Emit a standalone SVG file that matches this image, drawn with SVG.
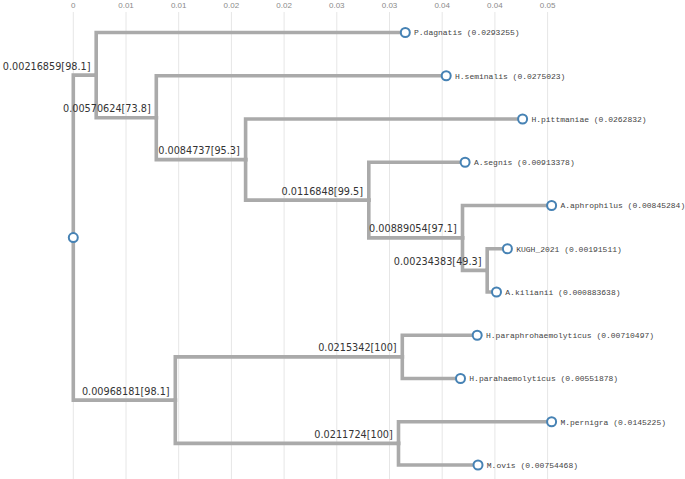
<svg xmlns="http://www.w3.org/2000/svg" width="685" height="479" viewBox="0 0 685 479">
<style>
.grid{stroke:#e6e6e6;stroke-width:1}
.ax{font-family:"Liberation Sans",Arial,sans-serif;font-size:8px;fill:#8a8a8a;text-anchor:middle}
.br{fill:none;stroke:#aaaaaa;stroke-width:3.6;stroke-linejoin:miter;stroke-linecap:square}
.nl{font-family:"DejaVu Sans",Verdana,sans-serif;font-size:9.7px;fill:#333;text-anchor:end}
.ll{font-family:"Liberation Mono","Courier New",monospace;font-size:8px;fill:#444}
.dot{fill:#fff;stroke:#4682b4;stroke-width:2}
</style>
<rect width="685" height="479" fill="#fff"/>
<g id="axis">
<line class="grid" x1="73.3" y1="12" x2="73.3" y2="479"/>
<line class="grid" x1="126" y1="12" x2="126" y2="479"/>
<line class="grid" x1="178.7" y1="12" x2="178.7" y2="479"/>
<line class="grid" x1="231.4" y1="12" x2="231.4" y2="479"/>
<line class="grid" x1="284.1" y1="12" x2="284.1" y2="479"/>
<line class="grid" x1="336.8" y1="12" x2="336.8" y2="479"/>
<line class="grid" x1="389.5" y1="12" x2="389.5" y2="479"/>
<line class="grid" x1="442.2" y1="12" x2="442.2" y2="479"/>
<line class="grid" x1="494.9" y1="12" x2="494.9" y2="479"/>
<line class="grid" x1="547.6" y1="12" x2="547.6" y2="479"/>
<text class="ax" x="73.3" y="8">0</text>
<text class="ax" x="126" y="8">0.01</text>
<text class="ax" x="178.7" y="8">0.01</text>
<text class="ax" x="231.4" y="8">0.02</text>
<text class="ax" x="284.1" y="8">0.02</text>
<text class="ax" x="336.8" y="8">0.03</text>
<text class="ax" x="389.5" y="8">0.03</text>
<text class="ax" x="442.2" y="8">0.04</text>
<text class="ax" x="494.9" y="8">0.04</text>
<text class="ax" x="547.6" y="8">0.05</text>
</g>
<g id="connectors">
<path class="br" d="M73.3 237.6V75.1H96.2"/>
<path class="br" d="M73.3 237.6V400.1H175.3"/>
<path class="br" d="M96.2 75.1V32.5H405.3"/>
<path class="br" d="M96.2 75.1V117.7H156.3"/>
<path class="br" d="M156.3 117.7V75.75H446.2"/>
<path class="br" d="M156.3 117.7V159.6H245.6"/>
<path class="br" d="M245.6 159.6V119H522.6"/>
<path class="br" d="M245.6 159.6V200.1H368.8"/>
<path class="br" d="M368.8 200.1V162.25H465.1"/>
<path class="br" d="M368.8 200.1V237.9H462.5"/>
<path class="br" d="M462.5 237.9V205.5H551.6"/>
<path class="br" d="M462.5 237.9V270.4H487.2"/>
<path class="br" d="M487.2 270.4V248.75H507.4"/>
<path class="br" d="M487.2 270.4V292H496.5"/>
<path class="br" d="M175.3 400.1V356.9H402.3"/>
<path class="br" d="M175.3 400.1V443.4H398.5"/>
<path class="br" d="M402.3 356.9V335.25H477.2"/>
<path class="br" d="M402.3 356.9V378.5H460.5"/>
<path class="br" d="M398.5 443.4V421.75H551.6"/>
<path class="br" d="M398.5 443.4V465H478"/>
</g>
<g id="root"><circle class="dot" cx="73.3" cy="237.6" r="4.5"/></g>
<g id="n1"><text class="nl" x="90.5" y="69.6">0.00216859[98.1]</text></g>
<g id="n2"><text class="nl" x="150.7" y="112.2">0.00570624[73.8]</text></g>
<g id="n3"><text class="nl" x="239.8" y="154.1">0.0084737[95.3]</text></g>
<g id="n4"><text class="nl" x="363" y="194.6">0.0116848[99.5]</text></g>
<g id="n5"><text class="nl" x="456.8" y="232.4">0.00889054[97.1]</text></g>
<g id="n6"><text class="nl" x="481.5" y="264.9">0.00234383[49.3]</text></g>
<g id="n7"><text class="nl" x="169.6" y="394.6">0.00968181[98.1]</text></g>
<g id="n8"><text class="nl" x="396.6" y="351.4">0.0215342[100]</text></g>
<g id="n9"><text class="nl" x="392.8" y="437.9">0.0211724[100]</text></g>
<g id="leaf1"><circle class="dot" cx="405.3" cy="32.5" r="4.5"/><text class="ll" x="414" y="35.3">P.dagnatis (0.0293255)</text></g>
<g id="leaf2"><circle class="dot" cx="446.2" cy="75.75" r="4.5"/><text class="ll" x="455" y="78.5">H.seminalis (0.0275023)</text></g>
<g id="leaf3"><circle class="dot" cx="522.6" cy="119" r="4.5"/><text class="ll" x="531.4" y="121.8">H.pittmaniae (0.0262832)</text></g>
<g id="leaf4"><circle class="dot" cx="465.1" cy="162.25" r="4.5"/><text class="ll" x="473.9" y="165">A.segnis (0.00913378)</text></g>
<g id="leaf5"><circle class="dot" cx="551.6" cy="205.5" r="4.5"/><text class="ll" x="560.4" y="208.3">A.aphrophilus (0.00845284)</text></g>
<g id="leaf6"><circle class="dot" cx="507.4" cy="248.75" r="4.5"/><text class="ll" x="516.2" y="251.5">KUGH_2021 (0.00191511)</text></g>
<g id="leaf7"><circle class="dot" cx="496.5" cy="292" r="4.5"/><text class="ll" x="505.3" y="294.8">A.kilianii (0.000883638)</text></g>
<g id="leaf8"><circle class="dot" cx="477.2" cy="335.25" r="4.5"/><text class="ll" x="486" y="338">H.paraphrohaemolyticus (0.00710497)</text></g>
<g id="leaf9"><circle class="dot" cx="460.5" cy="378.5" r="4.5"/><text class="ll" x="469.3" y="381.3">H.parahaemolyticus (0.00551878)</text></g>
<g id="leaf10"><circle class="dot" cx="551.6" cy="421.75" r="4.5"/><text class="ll" x="560.4" y="424.5">M.pernigra (0.0145225)</text></g>
<g id="leaf11"><circle class="dot" cx="478" cy="465" r="4.5"/><text class="ll" x="486.8" y="467.8">M.ovis (0.00754468)</text></g>
</svg>
